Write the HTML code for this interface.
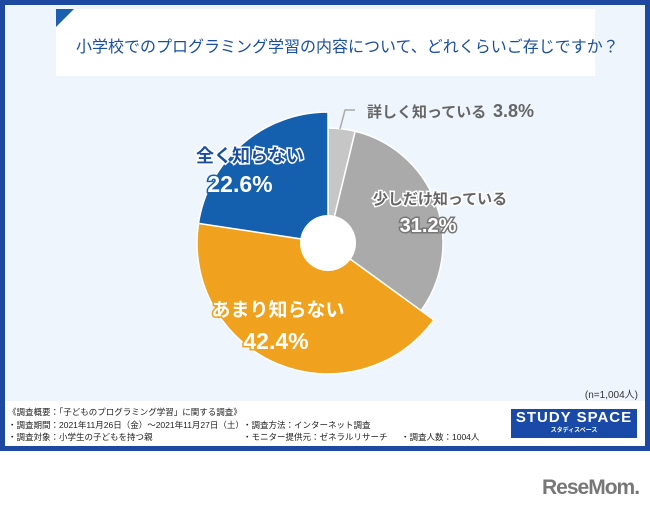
<!DOCTYPE html>
<html><head><meta charset="utf-8"><style>
body{margin:0;width:650px;height:510px;background:#fff;position:relative;overflow:hidden;font-family:"Liberation Sans","Noto Sans CJK JP",sans-serif}
.abs{position:absolute}
</style></head><body>
<div class="abs" style="left:0;top:0;width:650px;height:451px;background:#1d4aa0"></div>
<div class="abs" style="left:5px;top:5px;width:640px;height:396px;background:#eef5fc"></div>
<div class="abs" style="left:5px;top:401px;width:640px;height:45px;background:#fff"></div>
<div class="abs" style="left:56px;top:9px;width:539px;height:67px;background:#fff"></div>
<svg class="abs" style="left:56px;top:9px" width="20" height="20"><polygon points="0,0 18,0 0,18" fill="#1a5fb0"/></svg>
<div class="abs" style="left:76px;top:33px;font-size:16px;color:#1a4fa0;white-space:nowrap">小学校でのプログラミング学習の内容について、どれくらいご存じですか？</div>
<svg class="abs" id="pie" style="left:0;top:0" width="650" height="451"></svg>
<div class="abs" style="right:12px;top:386px;font-size:10px;color:#333">(n=1,004人)</div>
<div class="abs" style="left:8px;top:406px;font-size:8.5px;line-height:12.5px;color:#222;white-space:nowrap">
《調査概要：「子どものプログラミング学習」に関する調査》<br>
・調査期間：2021年11月26日（金）～2021年11月27日（土）<span style="position:absolute;left:235px">・調査方法：インターネット調査</span><br>
・調査対象：小学生の子どもを持つ親<span style="position:absolute;left:235px">・モニター提供元：ゼネラルリサーチ</span><span style="position:absolute;left:393px">・調査人数：1004人</span>
</div>
<div class="abs" style="left:511px;top:409px;width:126px;height:29px;background:#1a4aa8;color:#fff;text-align:center">
<div style="font-size:15px;font-weight:bold;letter-spacing:1px;line-height:18px">STUDY SPACE</div>
<div style="font-size:6px;line-height:8px;font-weight:bold">スタディスペース</div></div>
<div class="abs" style="left:542px;top:476px;font-size:21px;font-weight:bold;color:#777;letter-spacing:-1px">ReseMom.</div>
<script>
const categories=["詳しく知っている","少しだけ知っている","あまり知らない","全く知らない"];
const values=[3.8,31.2,42.4,22.6];
const labels=["3.8%","31.2%","42.4%","22.6%"];
const colors=["#c6c6c6","#aaaaaa","#f0a21e","#145fae"];
const radii=[115,115,131,131];
const svg=document.getElementById('pie');const NS="http://www.w3.org/2000/svg";
const cx=328,cy=243,hole=28;
const total=values.reduce((a,b)=>a+b,0);
function pt(a,r){return [cx+r*Math.sin(a),cy-r*Math.cos(a)];}
let acc=0;
values.forEach((v,i)=>{
 const a0=acc/total*2*Math.PI;acc+=v;const a1=acc/total*2*Math.PI;const r=radii[i];
 const p0=pt(a0,r),p1=pt(a1,r);const large=(a1-a0)>Math.PI?1:0;
 const p=document.createElementNS(NS,'path');
 p.setAttribute('d',`M${cx},${cy}L${p0[0]},${p0[1]}A${r},${r} 0 ${large} 1 ${p1[0]},${p1[1]}Z`);
 p.setAttribute('fill',colors[i]);p.setAttribute('stroke','#fff');p.setAttribute('stroke-width','1.5');
 
 
 svg.appendChild(p);
});
const h=document.createElementNS(NS,'circle');h.setAttribute('cx',cx);h.setAttribute('cy',cy);h.setAttribute('r',hole);h.setAttribute('fill','#fff');


svg.appendChild(h);
function txt(x,y,s,size,fill,stroke,name,anchor){
 const t=document.createElementNS(NS,'text');t.setAttribute('x',x);t.setAttribute('y',y);t.textContent=s;
 t.setAttribute('font-size',size);t.setAttribute('font-weight','bold');t.setAttribute('fill',fill);
 t.setAttribute('text-anchor',anchor||'middle');
 if(stroke){t.setAttribute('stroke',stroke);t.setAttribute('stroke-width','3');t.setAttribute('paint-order','stroke');}
 
 
 svg.appendChild(t);}
const ln=document.createElementNS(NS,'polyline');ln.setAttribute('points','340,129 345,110 355,110');ln.setAttribute('fill','none');ln.setAttribute('stroke','#aaa');ln.setAttribute('stroke-width','1.5');


svg.appendChild(ln);
txt(367,117,categories[0],15,'#666',null,'label-0-name','start');
txt(493,117,labels[0],18,'#666',null,'label-0-value','start');
txt(440,204,categories[1],15,'#666','#fff','label-1-name');
txt(428,232,labels[1],20,'#fff','#777','label-1-value');
txt(278,316,categories[2],19,'#fff','#f0a21e','label-2-name');
txt(276,349,labels[2],23,'#fff','#f0a21e','label-2-value');
txt(250,162,categories[3],18,'#1a4fa0','#fff','label-3-name');
txt(240,192,labels[3],23,'#fff','#145fae','label-3-value');
</script>
</body></html>
